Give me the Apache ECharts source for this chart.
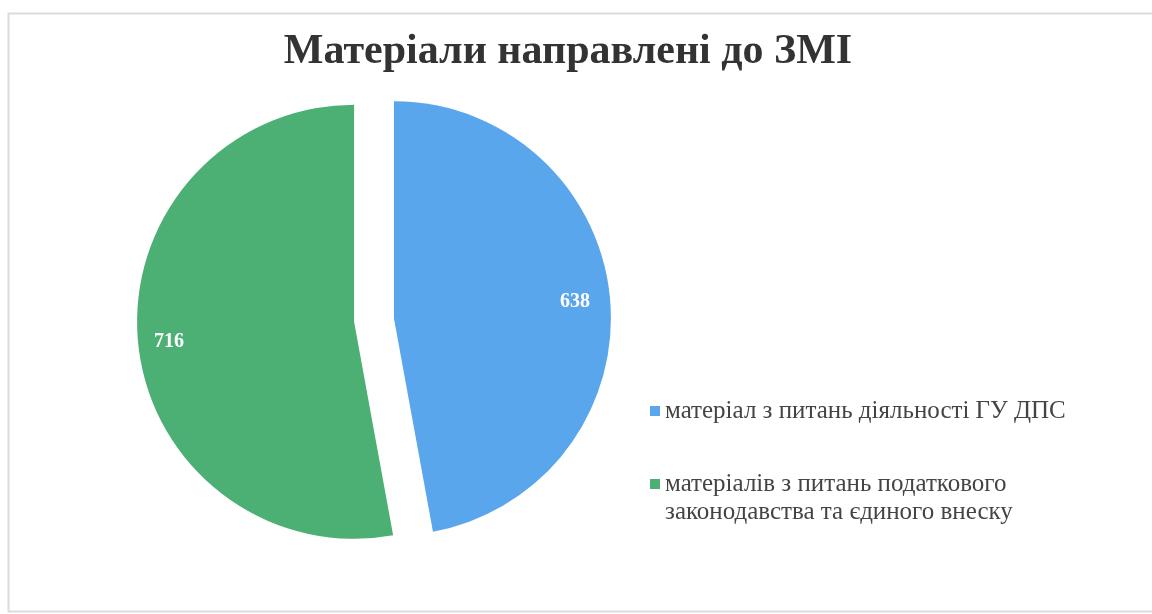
<!DOCTYPE html>
<html>
<head>
<meta charset="utf-8">
<script src="https://cdn.jsdelivr.net/npm/echarts@6/dist/echarts.min.js"></script>
<style>
  html, body { margin: 0; padding: 0; background: #fff; }
  #chart { width: 1152px; height: 614px; }
</style>
</head>
<body>
<div id="chart"></div>
<script>
// дані діаграми
const titleText = 'Матеріали направлені до ЗМІ';
const categories = [
  'матеріал з питань діяльності ГУ ДПС',
  'матеріалів з питань податкового\nзаконодавства та єдиного внеску'
];
const values = [638, 716];
const colors = ['#5aa6ec', '#4caf74'];

const chart = echarts.init(document.getElementById('chart'));

// зсув підписів ближче до краю сектора
const labelShift = [[70, -6], [-74, 10]];

chart.setOption({
  animation: false,
  title: {
    text: titleText,
    left: 563,
    textAlign: 'center',
    top: 26,
    textStyle: {
      fontFamily: 'Liberation Serif',
      fontSize: 42,
      fontWeight: 'bold',
      color: '#333333'
    }
  },
  legend: {
    orient: 'vertical',
    left: 650,
    top: 397,
    padding: 0,
    itemWidth: 10,
    itemHeight: 10,
    itemGap: 17,
    icon: 'rect',
    textStyle: {
      fontFamily: 'Liberation Serif',
      fontSize: 25,
      color: '#444',
      lineHeight: 28
    },
    // порожній рядок зверху, щоб значок стояв на рівні першого рядка
    formatter: function (name) {
      return name.indexOf('\n') >= 0 ? '\n' + name : name;
    },
    data: categories
  },
  graphic: [{
    type: 'rect',
    shape: { x: 8.5, y: 13.5, width: 1150, height: 598 },
    style: { fill: 'none', stroke: '#dcdce0', lineWidth: 2 },
    silent: true
  }],
  series: [{
    type: 'pie',
    center: [374, 320],
    radius: 217,
    startAngle: 90,
    clockwise: true,
    selectedMode: 'multiple',
    selectedOffset: 20,
    emphasis: { disabled: true },
    label: {
      show: true,
      position: 'inner',
      formatter: '{c}',
      color: '#ffffff',
      fontFamily: 'Liberation Serif',
      fontSize: 20,
      fontWeight: 'bold'
    },
    labelLine: { show: false },
    labelLayout: function (p) {
      return { dx: labelShift[p.dataIndex][0], dy: labelShift[p.dataIndex][1] };
    },
    itemStyle: { borderWidth: 0 },
    data: categories.map(function (name, i) {
      return { name: name, value: values[i], selected: true, itemStyle: { color: colors[i] } };
    })
  }]
});
</script>
</body>
</html>
